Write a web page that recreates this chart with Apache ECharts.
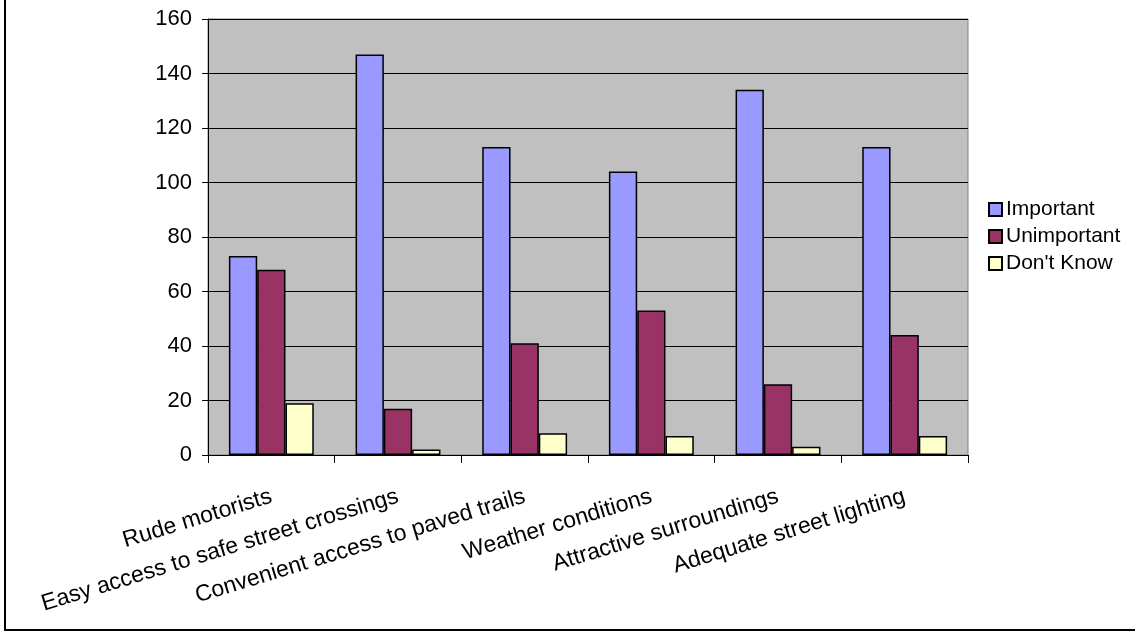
<!DOCTYPE html>
<html>
<head>
<meta charset="utf-8">
<script src="https://cdn.jsdelivr.net/npm/echarts@6/dist/echarts.min.js"></script>
<style>
  html, body { margin: 0; padding: 0; background: #fff; }
  #frame { position: absolute; left: 4px; top: -4px; width: 1140px; height: 635px; border: 2px solid #000; box-sizing: border-box; pointer-events: none; }
  #chart { position: absolute; left: 0; top: 0; width: 1135px; height: 634px; }
</style>
</head>
<body>
<div id="chart"></div>
<div id="frame"></div>
<script>
// Категории и значения опроса
const categories = [
  'Rude motorists',
  'Easy access to safe street crossings',
  'Convenient access to paved trails',
  'Weather conditions',
  'Attractive surroundings',
  'Adequate street lighting',
];
const important   = [73, 147, 113, 104, 134, 113];
const unimportant = [68, 17, 41, 53, 26, 44];
const dontKnow    = [19, 2, 8, 7, 3, 7];
const yTicks = { min: 0, max: 160, interval: 20 };

const font = 'Liberation Sans, Arial, sans-serif';

const bar = (name, data, color) => ({
  name,
  type: 'bar',
  data,
  barGap: '0%',
  barCategoryGap: '33%',
  itemStyle: { color, borderColor: '#000', borderWidth: 1.5 },
  emphasis: { disabled: true },
});

const chart = echarts.init(document.getElementById('chart'), null, { renderer: 'canvas' });
chart.setOption({
  animation: false,
  backgroundColor: '#fff',
  textStyle: { fontFamily: font },
  grid: {
    left: 208, right: 167, top: 19, bottom: 179,
    show: true, backgroundColor: '#C0C0C0', borderColor: '#808080', borderWidth: 1,
  },
  legend: {
    orient: 'vertical',
    left: 983, top: 194,
    itemWidth: 13, itemHeight: 13, itemGap: 6,
    icon: 'rect',
    textStyle: { fontSize: 21, color: '#000', fontFamily: font, padding: [0, 0, 0, -1] },
    data: ['Important', 'Unimportant', "Don't Know"],
  },
  xAxis: {
    type: 'category',
    data: categories,
    axisLine: { lineStyle: { color: '#000', width: 1 } },
    axisTick: { show: true, length: 8, interval: 0, lineStyle: { color: '#000' } },
    axisLabel: { interval: 0, rotate: 17, margin: 41, fontSize: 23, color: '#000', fontFamily: font },
    splitLine: { show: false },
  },
  yAxis: {
    type: 'value',
    min: yTicks.min, max: yTicks.max, interval: yTicks.interval,
    axisLine: { show: true, lineStyle: { color: '#000', width: 1 } },
    axisTick: { show: true, length: 6, lineStyle: { color: '#000' } },
    axisLabel: { fontSize: 22, color: '#000', margin: 16, fontFamily: font },
    splitLine: { lineStyle: { color: '#000', width: 1 } },
  },
  series: [
    bar('Important', important, '#9999FF'),
    bar('Unimportant', unimportant, '#993366'),
    bar("Don't Know", dontKnow, '#FFFFCC'),
  ],
});
</script>
</body>
</html>
